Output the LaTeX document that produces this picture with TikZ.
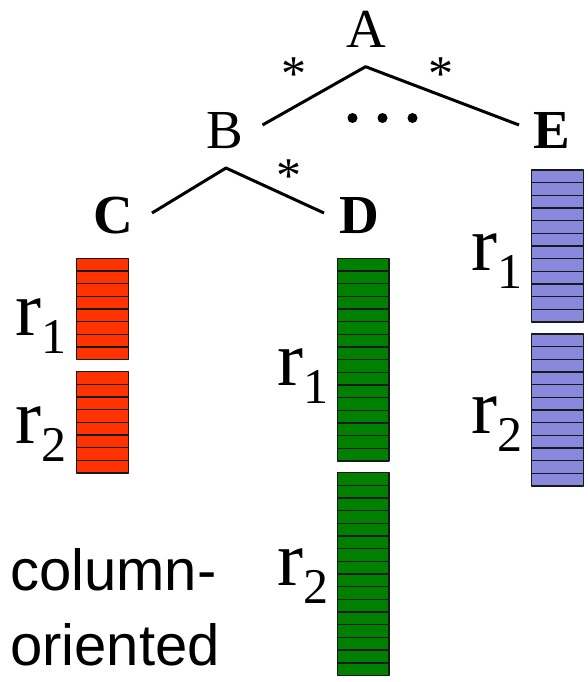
\documentclass[tikz,border=0pt]{standalone}
\usepackage{fontspec}
\setmainfont{Liberation Serif}
\setsansfont{Liberation Sans}

\definecolor{cellred}{RGB}{255,51,0}
\definecolor{cellgreen}{RGB}{0,128,0}
\definecolor{cellblue}{RGB}{136,136,221}

\begin{document}
\begin{tikzpicture}[x=1pt,y=-1pt,line join=round,
  edge/.style={line width=3pt},
  letter/.style={anchor=base,inner sep=0pt,font=\fontsize{55}{60}\selectfont},
  star/.style={anchor=base,inner sep=0pt,font=\fontsize{50}{50}\selectfont},
  rlabel/.style={anchor=base west,inner sep=0pt,font=\fontsize{78}{80}\selectfont},
  cell/.style={draw=black!90,line width=1.5pt}]
\useasboundingbox (0,0) rectangle (588,682);
% tree
\node[letter] (A) at (366,48) {A};
\node[letter] (B) at (225,148) {B};
\node[letter] (E) at (552,148) {\bfseries E};
\node[letter] (C) at (113,233) {\bfseries C};
\node[letter] (D) at (359,233) {\bfseries D};
\coordinate (Aroot) at (365.6,66.7);
\coordinate (AB) at (262.5,125);
\coordinate (AE) at (519,125);
\coordinate (Broot) at (226,168);
\coordinate (BC) at (152,213);
\coordinate (BD) at (324,213);
\draw[edge] (AB) -- (Aroot) -- (AE);
\draw[edge] (BC) -- (Broot) -- (BD);
\node[star] (starAB) at (294,91) {*};
\node[star] (starAE) at (440.6,91) {*};
\node[star] (starBD) at (289,192) {*};
\fill (352.5,118) circle (5pt);
\fill (382.5,118) circle (5pt);
\fill (412.5,118) circle (5pt);
% column blocks: left x, top y, number of cells, colour
\foreach \bx/\by/\n/\c in {76.7/258.3/8/cellred, 76.7/371.7/8/cellred,
    337.3/258.3/16/cellgreen, 337.3/472.7/16/cellgreen,
    531.7/170/12/cellblue, 531.7/334/12/cellblue}
  \foreach \i in {1,...,\n}
    \draw[cell,fill=\c] (\bx,{\by+(\i-1)*12.67}) rectangle ++(51.6,12.67);
% row labels
\node[rlabel] (Cr1) at (15,335) {r\raisebox{-18pt}{\fontsize{50}{50}\selectfont 1}};
\node[rlabel] (Cr2) at (15,443) {r\raisebox{-18pt}{\fontsize{50}{50}\selectfont 2}};
\node[rlabel] (Dr1) at (277,385) {r\raisebox{-18pt}{\fontsize{50}{50}\selectfont 1}};
\node[rlabel] (Dr2) at (277,585) {r\raisebox{-18pt}{\fontsize{50}{50}\selectfont 2}};
\node[rlabel] (Er1) at (471,270) {r\raisebox{-18pt}{\fontsize{50}{50}\selectfont 1}};
\node[rlabel] (Er2) at (471,433) {r\raisebox{-18pt}{\fontsize{50}{50}\selectfont 2}};
\node[anchor=north west,inner sep=0pt,align=left,font=\sffamily\fontsize{58}{75}\selectfont] (layout) at (10,548.5) {column-\\oriented};
\end{tikzpicture}
\end{document}
